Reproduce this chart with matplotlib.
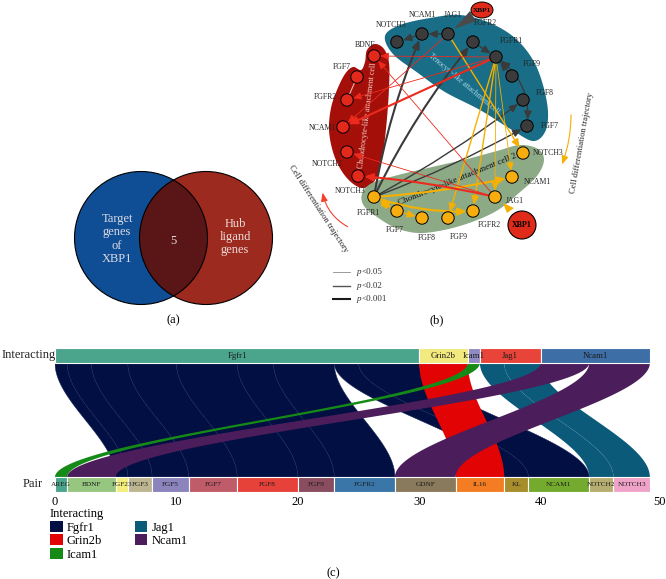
import numpy as np
import matplotlib
matplotlib.use('Agg')
import matplotlib.pyplot as plt
import matplotlib.transforms as mtransforms
from matplotlib.patches import Circle, Ellipse, Rectangle, Polygon, FancyArrowPatch, Patch

plt.rcParams['font.family'] = ['Liberation Serif', 'DejaVu Serif']

# ------------------------------------------------------------------ data
venn_left_label = 'Target\ngenes\nof\nXBP1'
venn_right_label = 'Hub\nligand\ngenes'
venn_overlap = '5'

teno_genes = ['NOTCH3', 'NCAM1', 'JAG1', 'FGFR2', 'FGFR1', 'FGF9', 'FGF8', 'FGF7']
chon1_genes = ['BDNF', 'FGF7', 'FGFR2', 'NCAM1', 'NOTCH2', 'NOTCH3']
chon2_genes = ['FGFR1', 'FGF7', 'FGF8', 'FGF9', 'FGFR2', 'JAG1', 'NCAM1', 'NOTCH3']

edge_src = ['t:NCAM1', 't:JAG1', 't:FGFR2', 't:FGF9', 't:FGF7', 'o:FGFR1', 'o:FGFR1', 'o:FGFR1', 'o:FGFR1',
            't:JAG1', 't:FGFR1', 't:FGFR1', 't:FGFR1', 't:FGFR1', 'o:FGFR1', 'o:FGFR1', 'o:FGFR1', 'o:FGF7',
            't:FGFR1', 't:FGFR1', 't:FGFR1', 't:JAG1', 'o:JAG1', 'o:JAG1', 'o:JAG1']
edge_dst = ['t:NOTCH3', 't:NCAM1', 't:FGFR1', 't:FGFR1', 't:FGFR1', 't:NCAM1', 't:FGFR2', 't:FGF8', 't:FGF7',
            'o:NOTCH3', 'o:FGF9', 'o:FGFR2', 'o:JAG1', 'o:NCAM1', 'o:NCAM1', 'o:FGFR2', 'o:FGF7', 'o:FGF8',
            'r:NCAM1', 'r:FGFR2', 'r:BDNF', 'r:NCAM1', 'r:BDNF', 'r:NOTCH3', 'r:NOTCH2']
edge_plevel = [2, 2, 2, 2, 2, 3, 3, 2, 2,
               2, 2, 2, 1, 1, 3, 3, 3, 2,
               3, 1, 1, 1, 1, 3, 1]
p_labels = ['<0.05', '<0.02', '<0.001']

interacting = ['Fgfr1', 'Grin2b', 'Icam1', 'Jag1', 'Ncam1']
pairs = ['AREG', 'BDNF', 'FGF23', 'FGF3', 'FGF5', 'FGF7', 'FGF8', 'FGF9', 'FGFR2',
         'GDNF', 'IL16', 'KL', 'NCAM1', 'NOTCH2', 'NOTCH3']
flow_src = ['Fgfr1'] * 9 + ['Grin2b', 'Icam1', 'Jag1', 'Jag1', 'Ncam1', 'Ncam1']
flow_dst = ['FGF23', 'FGF3', 'FGF5', 'FGF7', 'FGF8', 'FGF9', 'FGFR2', 'KL', 'NCAM1',
            'IL16', 'AREG', 'NOTCH2', 'NOTCH3', 'BDNF', 'GDNF']
flow_n = [1, 2, 3, 4, 5, 3, 5, 2, 5, 4, 1, 2, 3, 4, 5]
sankey_ticks = [0, 10, 20, 30, 40, 50]

# ------------------------------------------------------------------ styles / layout
top_colors = {'Fgfr1': '#4ba58d', 'Grin2b': '#f2ea7e', 'Icam1': '#8f8bc2',
              'Jag1': '#e8443a', 'Ncam1': '#3d6fa6'}
pair_colors = ['#4ba58d', '#96c67f', '#f4ee7c', '#bdb690', '#8b84bd', '#c05b6a', '#e7423a',
               '#8a4d60', '#3b76a9', '#8a7a5d', '#f47c22', '#a88d2c', '#74ab2e', '#b6ae70', '#f0a3c9']
flow_colors = {'Fgfr1': '#020f42', 'Grin2b': '#e20404', 'Icam1': '#168a16',
               'Jag1': '#0b5a79', 'Ncam1': '#4b1d5b'}

fig = plt.figure(figsize=(6.66, 5.79), dpi=100)
ax0 = fig.add_axes([0, 0, 1, 1])
ax0.set_xlim(0, 666)
ax0.set_ylim(579, 0)
ax0.axis('off')


def smooth_closed(pts, n=16):
    P = np.asarray(pts, float)
    N = len(P)
    out = []
    t = np.linspace(0, 1, n, endpoint=False)[:, None]
    for i in range(N):
        p0, p1, p2, p3 = P[i - 1], P[i], P[(i + 1) % N], P[(i + 2) % N]
        out.append(0.5 * ((2 * p1) + (-p0 + p2) * t + (2 * p0 - 5 * p1 + 4 * p2 - p3) * t ** 2
                          + (-p0 + 3 * p1 - 3 * p2 + p3) * t ** 3))
    return np.vstack(out)


# ------------------------------------------------------------------ (a) Venn
cl = (141, 238); cr = (206, 238); rad_v = 66.5
c_blue = Circle(cl, rad_v, facecolor='#0f4d94', edgecolor='none', zorder=1)
c_red = Circle(cr, rad_v, facecolor='#9d2a1f', edgecolor='none', zorder=1)
ax0.add_patch(c_blue)
ax0.add_patch(c_red)
c_mid = Circle(cl, rad_v, facecolor='#5a1616', edgecolor='none', zorder=2)
ax0.add_patch(c_mid)
c_mid.set_clip_path(c_red)
for c in (cl, cr):
    ax0.add_patch(Circle(c, rad_v, facecolor='none', edgecolor='black', lw=0.8, zorder=3))
ax0.text(117, 239, venn_left_label, ha='center', va='center', color='#dcdce4', fontsize=9,
         linespacing=1.15, zorder=4)
ax0.text(235, 237, venn_right_label, ha='center', va='center', color='#ecdcd8', fontsize=9,
         linespacing=1.15, zorder=4)
ax0.text(173, 241, venn_overlap, ha='center', va='center', color='#e6dede', fontsize=9, zorder=4)
ax0.text(173, 320, '(a)', ha='center', va='center', fontsize=9)

# ------------------------------------------------------------------ (b) network
node_xy = {
    't:NOTCH3': (397, 42), 't:NCAM1': (422, 34), 't:JAG1': (448, 34), 't:FGFR2': (473, 42),
    't:FGFR1': (496, 57), 't:FGF9': (512, 76), 't:FGF8': (523, 100), 't:FGF7': (527, 126),
    'r:BDNF': (374, 56), 'r:FGF7': (357, 77), 'r:FGFR2': (347, 100), 'r:NCAM1': (343, 127),
    'r:NOTCH2': (347, 152), 'r:NOTCH3': (358, 176),
    'o:FGFR1': (374, 197), 'o:FGF7': (397, 211), 'o:FGF8': (422, 218), 'o:FGF9': (448, 218),
    'o:FGFR2': (473, 211), 'o:JAG1': (495, 197), 'o:NCAM1': (512, 177), 'o:NOTCH3': (523, 153),
}
label_xy = {
    't:NOTCH3': (391, 25), 't:NCAM1': (422, 15), 't:JAG1': (453, 15), 't:FGFR2': (485, 23),
    't:FGFR1': (511, 41), 't:FGF9': (532, 64), 't:FGF8': (545, 93), 't:FGF7': (550, 126),
    'r:BDNF': (365, 45), 'r:FGF7': (342, 67), 'r:FGFR2': (325, 97), 'r:NCAM1': (322, 128),
    'r:NOTCH2': (327, 164), 'r:NOTCH3': (350, 191),
    'o:FGFR1': (368, 213), 'o:FGF7': (395, 230), 'o:FGF8': (427, 238), 'o:FGF9': (459, 237),
    'o:FGFR2': (489, 225), 'o:JAG1': (515, 201), 'o:NCAM1': (537, 182), 'o:NOTCH3': (548, 153),
}
edge_rad = [0, 0, 0, 0, 0.3, -0.06, -0.06, 0.04, 0.04,
            0, 0, 0, 0, 0, 0.04, 0.1, 0, 0,
            0, 0, 0, 0, 0, 0.04, 0]
edge_bidir = {4, 16}
group_edge_color = {'t': '#3a3a3a', 'o': '#f5b000', 'r': '#ec2a1e'}
group_node_color = {'t': '#3b3b3b', 'o': '#f8ad0e', 'r': '#e3281c'}
plevel_lw = {1: 0.6, 2: 1.0, 3: 1.5}

teal_outline = [(385, 36), (400, 25), (430, 18), (460, 15), (490, 23), (515, 38), (533, 60),
                (543, 85), (548, 112), (545, 132), (533, 141), (512, 130), (480, 110),
                (445, 92), (418, 73), (393, 54)]
red_outline = [(375, 44), (384, 49), (389, 63), (389, 88), (387, 118), (384, 146), (380, 168),
               (373, 183), (363, 188), (352, 183), (341, 170), (333, 152), (329, 130), (331, 108),
               (337, 90), (345, 74), (353, 67), (361, 70), (365, 62), (367, 50)]
sage_outline = [(362, 194), (372, 183), (398, 175), (432, 167), (467, 159), (497, 151),
                (520, 145), (538, 149), (544, 160), (537, 176), (519, 193), (498, 210),
                (472, 222), (444, 230), (418, 233), (396, 228), (377, 217), (364, 206)]
ax0.add_patch(Polygon(smooth_closed(teal_outline), closed=True, facecolor='#1a6d86', edgecolor='none', zorder=1))
ax0.add_patch(Polygon(smooth_closed(red_outline), closed=True, facecolor='#a50f0a', edgecolor='none', zorder=1))
ax0.add_patch(Polygon(smooth_closed(sage_outline), closed=True, facecolor='#8daa87', edgecolor='none', zorder=1))

ax0.text(464, 84, 'Tenocyte-like attachment cell', rotation=-40, ha='center', va='center',
         fontsize=5.5, color='#a6d6e6', zorder=2)
ax0.text(368, 113, 'Chondrocyte-like attachment cell 1', rotation=83, ha='center', va='center',
         fontsize=5.8, color='#f4cfc8', zorder=2)
ax0.text(457, 180, 'Chondrocyte-like attachment cell 2', rotation=22, ha='center', va='center',
         fontsize=6.5, color='#111111', zorder=2)

for i, (s, d, p) in enumerate(zip(edge_src, edge_dst, edge_plevel)):
    style = '<|-|>,head_length=0.5,head_width=0.22' if i in edge_bidir else '-|>,head_length=0.5,head_width=0.22'
    ax0.add_patch(FancyArrowPatch(node_xy[s], node_xy[d], arrowstyle=style, mutation_scale=10,
                                  connectionstyle=f'arc3,rad={edge_rad[i]}', color=group_edge_color[d[0]],
                                  lw=plevel_lw[p], shrinkA=4.6, shrinkB=4.6, zorder=3))
# faint internal edge in chondrocyte cell 1
ax0.add_patch(FancyArrowPatch(node_xy['r:FGF7'], node_xy['r:FGFR2'], arrowstyle='-', color='#f2b5b0',
                              lw=0.8, shrinkA=5, shrinkB=3, zorder=3))

groups = [('t', teno_genes), ('r', chon1_genes), ('o', chon2_genes)]
for g, genes in groups:
    for gene in genes:
        key = f'{g}:{gene}'
        ax0.add_patch(Circle(node_xy[key], 6.2, facecolor=group_node_color[g], edgecolor='black', lw=0.7, zorder=4))
        ax0.text(*label_xy[key], gene, ha='center', va='center', fontsize=5.6, color='#222222', zorder=5)

# XBP1 regulators
ax0.add_patch(Ellipse((482, 10), 22, 16, facecolor='#e02a1a', edgecolor='black', lw=0.7, zorder=4))
ax0.text(482, 10, 'XBP1', ha='center', va='center', fontsize=5.2, fontweight='bold', zorder=5)
ax0.add_patch(Circle((522, 225), 14, facecolor='#e02a1a', edgecolor='black', lw=0.8, zorder=4))
ax0.text(522, 225, 'XBP1', ha='center', va='center', fontsize=5.8, fontweight='bold', zorder=5)
ax0.add_patch(Polygon([(454, 29), (470, 11), (476, 21)], closed=True, facecolor='#4a4a4a',
                      edgecolor='none', zorder=3))
ax0.add_patch(Polygon([(503, 203), (514, 208), (507, 213)], closed=True, facecolor='#f5b000',
                      edgecolor='none', zorder=3))

# differentiation trajectories
ax0.text(318, 209, 'Cell differentiation trajectory', rotation=-57, ha='center', va='center',
         fontsize=6.2, color='#222222')
ax0.add_patch(FancyArrowPatch((350, 228), (322, 190), arrowstyle='-|>,head_length=0.5,head_width=0.2',
                              mutation_scale=10, connectionstyle='arc3,rad=-0.25', color='#f2412f', lw=0.8))
ax0.text(582, 143, 'Cell differentiation trajectory', rotation=80, ha='center', va='center',
         fontsize=6.2, color='#222222')
ax0.add_patch(FancyArrowPatch((571, 112), (561, 167), arrowstyle='-|>,head_length=0.5,head_width=0.2',
                              mutation_scale=10, connectionstyle='arc3,rad=-0.1', color='#f5b000', lw=0.8))

# p-value legend
for k, (yy, lbl) in enumerate(zip([272, 286, 299], p_labels)):
    ax0.plot([333, 350], [yy, yy], color=['#8a8a8a', '#555555', '#1a1a1a'][k], lw=plevel_lw[k + 1])
    ax0.text(357, yy, 'p', fontstyle='italic', ha='left', va='center', fontsize=6.5, color='#333333')
    ax0.text(361.5, yy, lbl, ha='left', va='center', fontsize=6.5, color='#333333')
ax0.text(437, 320, '(b)', ha='center', va='center', fontsize=9)

# ------------------------------------------------------------------ (c) Sankey
W, H = 666, 579
axs = fig.add_axes([55 / W, 1 - 493 / H, 607 / W, (493 - 330) / H])
axs.set_xlim(0, 50)
axs.set_ylim(493, 330)
for sp in axs.spines.values():
    sp.set_visible(False)
axs.set_yticks([])
axs.set_xticks(sankey_ticks)
axs.tick_params(axis='x', length=0, pad=2.5, labelsize=9)
last = axs.get_xticklabels()[-1]
last.set_horizontalalignment('right')
last.set_transform(last.get_transform() + mtransforms.ScaledTranslation(4 / 100, 0, fig.dpi_scale_trans))

top_y0, top_y1 = 348, 363
bot_y0, bot_y1 = 477, 492

top_tot = {c: sum(n for s, n in zip(flow_src, flow_n) if s == c) for c in interacting}
bot_tot = {c: sum(n for d, n in zip(flow_dst, flow_n) if d == c) for c in pairs}
top_start, acc = {}, 0
for c in interacting:
    top_start[c] = acc
    acc += top_tot[c]
bot_start, acc = {}, 0
for c in pairs:
    bot_start[c] = acc
    acc += bot_tot[c]

# flows
top_cursor = dict(top_start)
bot_cursor = dict(bot_start)
order = sorted(range(len(flow_n)), key=lambda i: (interacting.index(flow_src[i]), pairs.index(flow_dst[i])))
t = np.linspace(0, 1, 80)
sm = 3 * t ** 2 - 2 * t ** 3
yy = top_y1 + (bot_y0 - top_y1) * t
for i in order:
    s, d, n = flow_src[i], flow_dst[i], flow_n[i]
    xt0 = top_cursor[s]; top_cursor[s] += n
    xb0 = bot_cursor[d]; bot_cursor[d] += n
    left = xt0 + (xb0 - xt0) * sm
    right = (xt0 + n) + ((xb0 + n) - (xt0 + n)) * sm
    poly = np.vstack([np.column_stack([left, yy]), np.column_stack([right[::-1], yy[::-1]])])
    ec = '#17265a' if s == 'Fgfr1' else 'none'
    axs.add_patch(Polygon(poly, closed=True, facecolor=flow_colors[s], edgecolor=ec, lw=0.35,
                          zorder=2 + interacting.index(s)))

# strata bars
for c in interacting:
    axs.add_patch(Rectangle((top_start[c], top_y0), top_tot[c], top_y1 - top_y0,
                            facecolor=top_colors[c], edgecolor='white', lw=0.8, zorder=10))
    axs.text(top_start[c] + top_tot[c] / 2, (top_y0 + top_y1) / 2, c, ha='center', va='center',
             fontsize=6.3, color='#1a1a1a', zorder=11)
for c, col in zip(pairs, pair_colors):
    axs.add_patch(Rectangle((bot_start[c], bot_y0), bot_tot[c], bot_y1 - bot_y0,
                            facecolor=col, edgecolor='white', lw=0.8, zorder=10))
    axs.text(bot_start[c] + bot_tot[c] / 2, (bot_y0 + bot_y1) / 2, c, ha='center', va='center',
             fontsize=5.2, color='#1a1a1a', zorder=11)

ax0.text(2, 355, 'Interacting', ha='left', va='center', fontsize=9, color='#222222')
ax0.text(23, 484, 'Pair', ha='left', va='center', fontsize=9, color='#222222')
ax0.text(358, 338, 'Sankey plot', ha='center', va='center', fontsize=9, color='#222222')

handles = [Patch(facecolor=flow_colors[c], edgecolor='none', label=c) for c in interacting]
fig.legend(handles=handles, loc='upper left', bbox_to_anchor=(50 / W, 1 - 508 / H), ncol=2,
           title='Interacting', alignment='left', frameon=False, fontsize=9, title_fontsize=9,
           handlelength=1.0, handleheight=1.0, handletextpad=0.35, labelspacing=0.05,
           columnspacing=2.6, borderpad=0, borderaxespad=0)
ax0.text(333, 573, '(c)', ha='center', va='center', fontsize=9)

fig.savefig('out.png', dpi=100)
